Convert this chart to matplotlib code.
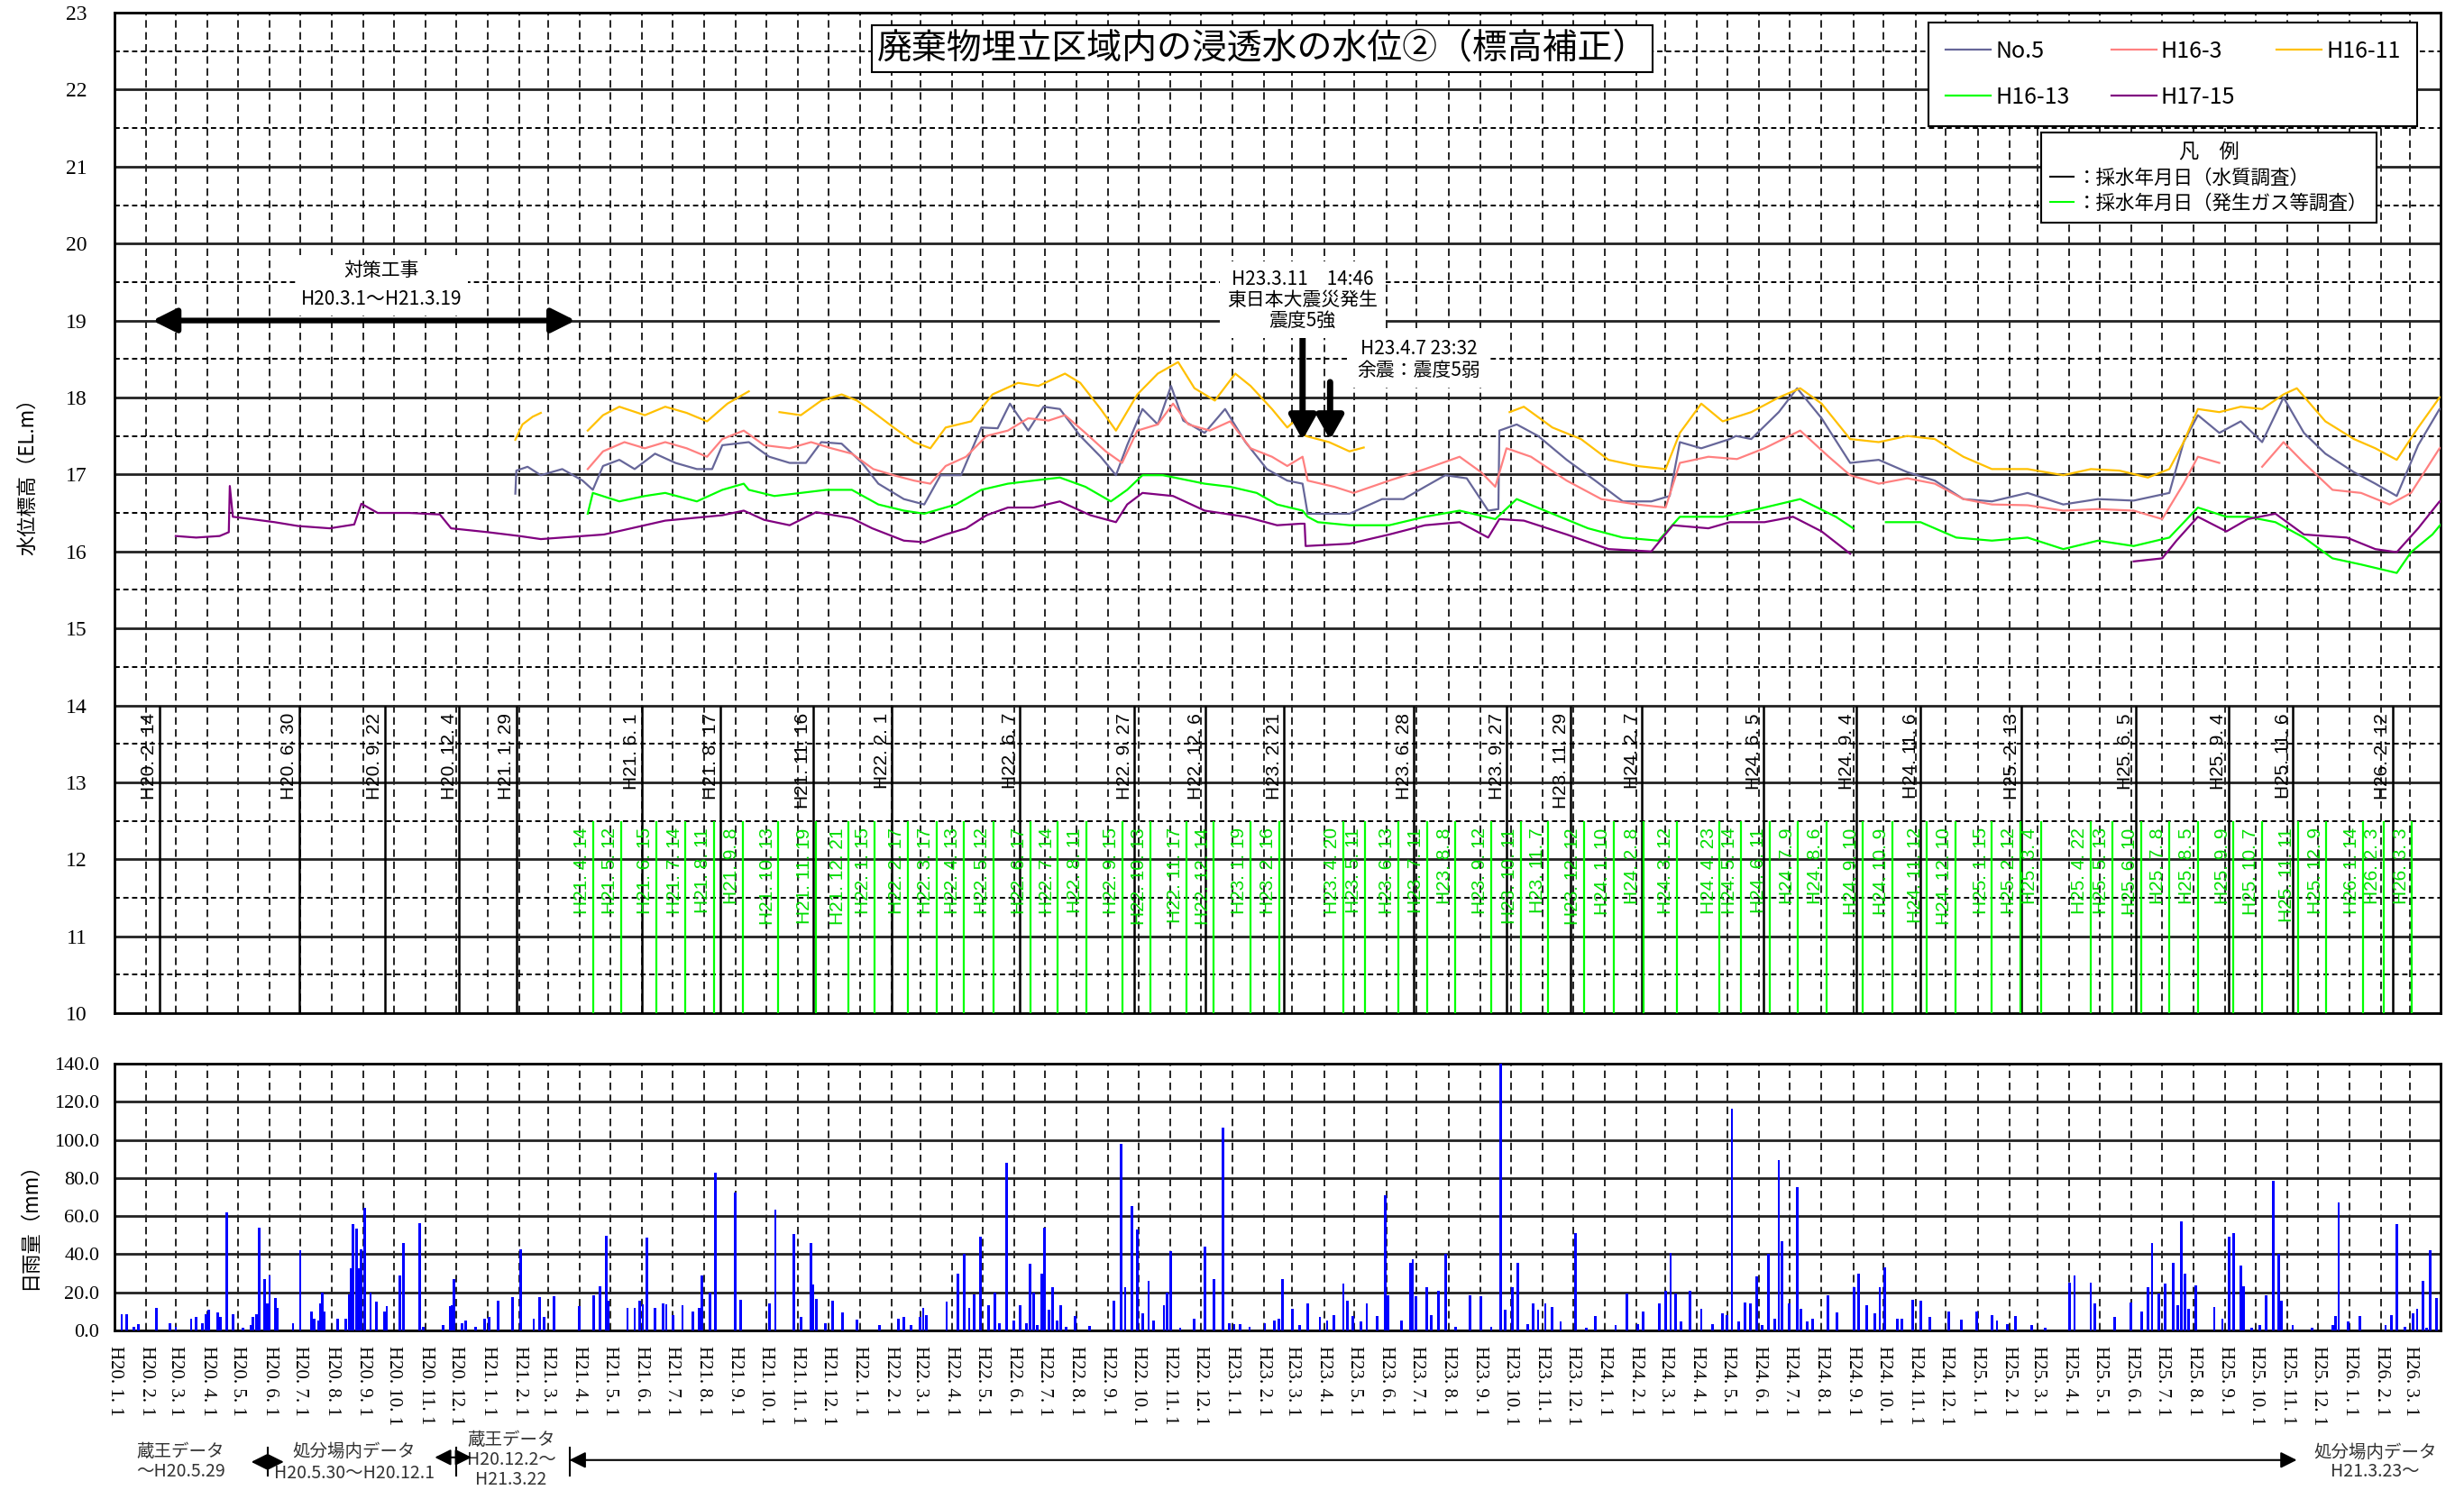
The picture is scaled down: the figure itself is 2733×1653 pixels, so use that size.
import datetime as dt
import numpy as np
import matplotlib
matplotlib.use('Agg')
import matplotlib.pyplot as plt
import matplotlib.dates as mdates
import matplotlib.transforms as mtransforms
from matplotlib.lines import Line2D
from matplotlib.patches import ArrowStyle
from matplotlib.ticker import FormatStrFormatter, FuncFormatter

JP = ['Noto Sans CJK JP', 'DejaVu Sans']
SERIF = ['Liberation Serif', 'Noto Sans CJK JP']
SANS = ['Liberation Sans', 'Noto Sans CJK JP']
plt.rcParams['font.family'] = JP

BASE = dt.date(2008, 1, 1)  # H20.1.1 = day 0 for the series below

# water level (EL.m) as (days from H20.1.1, value); None = no data
no5 = [(393, 16.75), (394, 17.05), (405, 17.1), (418, 16.99), (439, 17.07), (459, 16.92), (469, 16.8),
       (479, 17.11), (495, 17.19), (510, 17.07), (530, 17.27), (550, 17.15), (571, 17.07), (586, 17.07),
       (596, 17.38), (622, 17.42), (642, 17.23), (662, 17.15), (678, 17.15), (693, 17.42), (713, 17.4),
       (733, 17.15), (749, 16.88), (774, 16.68), (794, 16.61), (810, 16.99), (830, 16.99), (850, 17.61),
       (866, 17.6), (878, 17.92), (896, 17.57), (911, 17.88), (927, 17.85), (947, 17.5), (967, 17.23),
       (982, 16.99), (993, 17.38), (1008, 17.85), (1023, 17.65), (1036, 18.15), (1048, 17.7), (1069, 17.54),
       (1089, 17.85), (1109, 17.42), (1130, 17.07), (1150, 16.92), (1165, 16.88), (1170, 16.49), (1211, 16.49),
       (1243, 16.68), (1264, 16.68), (1285, 16.84), (1305, 16.99), (1326, 16.95), (1347, 16.53), (1357, 16.55),
       (1358, 17.57), (1375, 17.65), (1396, 17.5), (1424, 17.19), (1452, 16.92), (1479, 16.65), (1507, 16.65),
       (1525, 16.72), (1535, 17.42), (1556, 17.34), (1584, 17.46), (1590, 17.5), (1605, 17.46), (1632, 17.81),
       (1650, 18.12), (1674, 17.73), (1702, 17.15), (1730, 17.19), (1758, 17.03), (1785, 16.92), (1813, 16.68),
       (1841, 16.65), (1876, 16.76), (1911, 16.61), (1945, 16.68), (1980, 16.66), (2015, 16.76), (2029, 17.42),
       (2043, 17.77), (2064, 17.54), (2085, 17.69), (2106, 17.42), (2127, 18.0), (2147, 17.54), (2168, 17.27),
       (2196, 17.03), (2217, 16.88), (2238, 16.72), (2259, 17.38), (2280, 17.85), (2300, 17.9)]

h16_3 = [(464, 17.07), (479, 17.3), (500, 17.42), (520, 17.34), (540, 17.42), (561, 17.34), (581, 17.23),
         (596, 17.46), (617, 17.57), (637, 17.38), (662, 17.34), (683, 17.42), (703, 17.34), (723, 17.27),
         (744, 17.07), (764, 16.99), (784, 16.92), (800, 16.88), (815, 17.11), (835, 17.23), (855, 17.5),
         (876, 17.57), (896, 17.73), (916, 17.7), (932, 17.77), (952, 17.54), (972, 17.3), (988, 17.15),
         (1003, 17.57), (1023, 17.65), (1038, 17.92), (1053, 17.65), (1074, 17.57), (1094, 17.69), (1114, 17.34),
         (1135, 17.23), (1150, 17.11), (1165, 17.23), (1170, 16.92), (1196, 16.84), (1215, 16.76), (1250, 16.92),
         (1285, 17.07), (1319, 17.23), (1340, 17.03), (1354, 16.84), (1365, 17.34), (1389, 17.23), (1424, 16.92),
         (1458, 16.68), (1493, 16.61), (1521, 16.57), (1535, 17.15), (1563, 17.23), (1591, 17.2), (1618, 17.34),
         (1653, 17.57), (1681, 17.23), (1702, 16.99), (1730, 16.88), (1758, 16.95), (1785, 16.88), (1813, 16.68),
         (1841, 16.61), (1876, 16.6), (1911, 16.53), (1945, 16.55), (1980, 16.53), (2008, 16.42), (2029, 16.88),
         (2043, 17.23), (2064, 17.15), (2070, None), (2106, 17.1), (2127, 17.42), (2147, 17.15), (2175, 16.8),
         (2203, 16.76), (2231, 16.61), (2252, 16.76), (2280, 17.34), (2300, 17.45)]

h16_11 = [(393, 17.45), (400, 17.65), (410, 17.75), (418, 17.8), (430, None),
          (464, 17.57), (479, 17.77), (495, 17.88), (520, 17.77), (540, 17.88), (561, 17.8), (581, 17.69),
          (601, 17.92), (622, 18.08), (635, None),
          (652, 17.81), (673, 17.77), (693, 17.96), (713, 18.04), (728, 17.96), (744, 17.81), (764, 17.61),
          (784, 17.42), (800, 17.34), (815, 17.61), (840, 17.69), (861, 18.04), (886, 18.19), (906, 18.15),
          (932, 18.31), (947, 18.19), (967, 17.85), (982, 17.57), (1003, 18.04), (1023, 18.31), (1043, 18.46),
          (1059, 18.12), (1079, 17.96), (1099, 18.31), (1114, 18.15), (1135, 17.85), (1150, 17.61), (1160, 17.73),
          (1168, 17.5), (1191, 17.42), (1211, 17.3), (1225, 17.35), (1300, None),
          (1368, 17.81), (1382, 17.88), (1410, 17.61), (1438, 17.46), (1465, 17.19), (1493, 17.11), (1521, 17.07),
          (1535, 17.54), (1556, 17.92), (1577, 17.69), (1605, 17.81), (1632, 18.0), (1653, 18.12), (1674, 17.92),
          (1702, 17.46), (1730, 17.42), (1758, 17.5), (1785, 17.46), (1813, 17.23), (1841, 17.07), (1876, 17.07),
          (1911, 16.99), (1938, 17.07), (1966, 17.05), (1994, 16.96), (2015, 17.07), (2029, 17.42), (2043, 17.85),
          (2064, 17.81), (2085, 17.88), (2106, 17.85), (2127, 18.04), (2140, 18.12), (2168, 17.69), (2196, 17.46),
          (2217, 17.34), (2238, 17.19), (2259, 17.61), (2280, 18.0), (2300, 18.1)]

h16_13 = [(464, 16.49), (469, 16.76), (495, 16.65), (520, 16.72), (540, 16.76), (571, 16.65), (596, 16.8),
          (617, 16.88), (622, 16.8), (647, 16.72), (673, 16.76), (698, 16.8), (723, 16.8), (749, 16.61),
          (774, 16.53), (794, 16.49), (825, 16.61), (850, 16.8), (876, 16.88), (901, 16.92), (927, 16.96),
          (952, 16.84), (977, 16.65), (993, 16.8), (1008, 16.99), (1028, 16.99), (1043, 16.95), (1069, 16.88),
          (1094, 16.84), (1120, 16.76), (1140, 16.61), (1165, 16.53), (1170, 16.45), (1180, 16.38), (1211, 16.34),
          (1250, 16.34), (1285, 16.45), (1319, 16.53), (1354, 16.42), (1375, 16.68), (1410, 16.49), (1445, 16.3),
          (1479, 16.18), (1514, 16.14), (1535, 16.45), (1577, 16.45), (1618, 16.57), (1653, 16.68), (1688, 16.45),
          (1705, 16.3), (1720, None),
          (1737, 16.38), (1771, 16.38), (1806, 16.18), (1841, 16.14), (1876, 16.18), (1911, 16.03), (1945, 16.14),
          (1980, 16.07), (2015, 16.18), (2043, 16.57), (2071, 16.45), (2092, 16.45), (2119, 16.38), (2147, 16.18),
          (2175, 15.91), (2203, 15.83), (2238, 15.72), (2252, 15.99), (2273, 16.22), (2283, 16.38)]

h17_15 = [(60, 16.2), (80, 16.18), (103, 16.2), (112, 16.25), (113, 16.85), (116, 16.45), (134, 16.42),
          (157, 16.38), (180, 16.33), (211, 16.3), (235, 16.35), (242, 16.62), (258, 16.5), (289, 16.5),
          (319, 16.48), (330, 16.3), (366, 16.25), (397, 16.2), (418, 16.16), (480, 16.22), (520, 16.34),
          (540, 16.4), (596, 16.47), (617, 16.53), (637, 16.41), (662, 16.34), (688, 16.51), (723, 16.43),
          (743, 16.3), (774, 16.14), (794, 16.12), (815, 16.22), (835, 16.3), (855, 16.47), (876, 16.57),
          (901, 16.57), (927, 16.65), (957, 16.47), (982, 16.38), (993, 16.61), (1008, 16.76), (1038, 16.72),
          (1069, 16.53), (1089, 16.49), (1109, 16.45), (1140, 16.34), (1163, 16.36), (1167, 16.36), (1168, 16.07),
          (1211, 16.1), (1250, 16.22), (1285, 16.34), (1319, 16.38), (1347, 16.18), (1358, 16.42), (1382, 16.4),
          (1424, 16.22), (1465, 16.03), (1507, 16.0), (1528, 16.34), (1563, 16.3), (1584, 16.38), (1618, 16.38),
          (1646, 16.45), (1674, 16.26), (1702, 15.97), (1720, None),
          (1980, 15.87), (2008, 15.91), (2022, 16.14), (2043, 16.45), (2071, 16.26), (2092, 16.42), (2119, 16.49),
          (2147, 16.22), (2189, 16.18), (2217, 16.03), (2238, 15.99), (2259, 16.3), (2280, 16.65), (2300, 16.55)]

series_names = ['No.5', 'H16-3', 'H16-11', 'H16-13', 'H17-15']
series_colors = ['#666699', '#FF8080', '#FFC000', '#00FF00', '#800080']

# sampling dates
quality_dates = ['H20.2.14', 'H20.6.30', 'H20.9.22', 'H20.12.4', 'H21.1.29', 'H21.6.1', 'H21.8.17',
                 'H21.11.16', 'H22.2.1', 'H22.6.7', 'H22.9.27', 'H22.12.6', 'H23.2.21', 'H23.6.28',
                 'H23.9.27', 'H23.11.29', 'H24.2.7', 'H24.6.5', 'H24.9.4', 'H24.11.6', 'H25.2.13',
                 'H25.6.5', 'H25.9.4', 'H25.11.6', 'H26.2.12']
gas_dates = ['H21.4.14', 'H21.5.12', 'H21.6.15', 'H21.7.14', 'H21.8.11', 'H21.9.8', 'H21.10.13', 'H21.11.19',
             'H21.12.21', 'H22.1.15', 'H22.2.17', 'H22.3.17', 'H22.4.13', 'H22.5.12', 'H22.6.17', 'H22.7.14',
             'H22.8.11', 'H22.9.15', 'H22.10.13', 'H22.11.17', 'H22.12.14', 'H23.1.19', 'H23.2.16', 'H23.4.20',
             'H23.5.11', 'H23.6.13', 'H23.7.11', 'H23.8.8', 'H23.9.12', 'H23.10.11', 'H23.11.7', 'H23.12.12',
             'H24.1.10', 'H24.2.8', 'H24.3.12', 'H24.4.23', 'H24.5.14', 'H24.6.11', 'H24.7.9', 'H24.8.6',
             'H24.9.10', 'H24.10.9', 'H24.11.12', 'H24.12.10', 'H25.1.15', 'H25.2.12', 'H25.3.4', 'H25.4.22',
             'H25.5.13', 'H25.6.10', 'H25.7.8', 'H25.8.5', 'H25.9.9', 'H25.10.7', 'H25.11.11', 'H25.12.9',
             'H26.1.14', 'H26.2.3', 'H26.3.3']

# daily rainfall (days from H20.1.1, mm)
rain = [(7, 8.7), (12, 8.7), (19, 1.9), (23, 3.5), (41, 11.8), (54, 4), (60, 2), (75, 6.3), (80, 7), (86, 4),
        (90, 8.7), (92, 11), (101, 9.5), (104, 7), (110, 61.8), (116, 8.7), (126, 1.5), (134, 3), (136, 7),
        (139, 8.7), (142, 54), (147, 27), (150, 14), (152, 29), (158, 17), (160, 12), (175, 4), (182, 42),
        (193, 10), (196, 6.3), (200, 5), (202, 14), (204, 20), (206, 10), (219, 6.3), (227, 6.3), (230, 19),
        (232, 32.6), (234, 56), (237, 53.5), (239, 32.6), (242, 42.6), (245, 64.3), (251, 20), (257, 15),
        (265, 10), (267, 12.6), (280, 29), (283, 45.7), (299, 56.5), (303, 2), (322, 3), (329, 12.6),
        (331, 13.4), (333, 27), (341, 4), (344, 5), (354, 2), (363, 6.3), (367, 7), (376, 15.8), (390, 17.3),
        (398, 42.6), (411, 6.3), (417, 17.3), (421, 7), (431, 18), (456, 12.6), (470, 18.6), (476, 23.3),
        (482, 49.7), (484, 15.8), (503, 11.8), (510, 11.8), (515, 15.8), (518, 13.9), (522, 48.9), (530, 11.8),
        (538, 14), (541, 13.5), (548, 8), (557, 13.4), (567, 10), (573, 11.8), (576, 29), (584, 20),
        (589, 82.6), (609, 72.5), (614, 16), (642, 14), (648, 63.4), (666, 50.5), (673, 7), (683, 45.7),
        (685, 24), (688, 16.5), (697, 4), (704, 15.8), (714, 9.5), (728, 5.7), (750, 3), (769, 6), (774, 7),
        (781, 3), (790, 7), (793, 12), (796, 8), (816, 15), (827, 30), (833, 40), (838, 12), (843, 19),
        (849, 49), (857, 13), (863, 20), (868, 4), (875, 88), (882, 5), (888, 13), (894, 4), (898, 35),
        (901, 20), (905, 3), (909, 30), (912, 54), (916, 11), (920, 22.5), (924, 5), (928, 13), (933, 2),
        (942, 7.5), (956, 2.5), (980, 15.5), (987, 98), (991, 22.5), (998, 65.5), (1003, 53), (1008, 9),
        (1014, 26), (1019, 5), (1029, 13), (1032, 20), (1036, 41.5), (1045, 1.5), (1059, 6), (1069, 44),
        (1078, 27), (1087, 106.5), (1093, 4), (1098, 3.5), (1104, 3.5), (1113, 2), (1128, 4), (1137, 5),
        (1142, 6), (1145, 27), (1155, 11.5), (1162, 3), (1170, 14), (1182, 7), (1189, 5), (1196, 8),
        (1205, 24.6), (1209, 15.5), (1214, 7.5), (1222, 4.5), (1228, 14), (1238, 7.5), (1246, 71),
        (1249, 18.6), (1262, 5), (1271, 35.5), (1273, 37.5), (1276, 17.8), (1287, 22.5), (1291, 8), (1298, 21),
        (1305, 40), (1315, 2), (1329, 18.6), (1340, 18), (1350, 2), (1359, 140), (1364, 11), (1371, 22.5),
        (1376, 35.5), (1386, 3.5), (1391, 14), (1396, 11), (1403, 14), (1410, 12.3), (1418, 4.5), (1433, 51),
        (1443, 1.5), (1452, 7.5), (1472, 3), (1483, 19.4), (1494, 3.5), (1499, 10), (1515, 14), (1521, 21),
        (1526, 40.7), (1531, 19.4), (1536, 4.5), (1545, 21), (1556, 11.5), (1567, 3.5), (1577, 9), (1581, 8),
        (1586, 116.4), (1593, 4.5), (1599, 14.7), (1604, 14), (1610, 28.5), (1616, 3), (1622, 40), (1628, 6),
        (1632, 89.6), (1635, 47), (1642, 14), (1650, 75), (1654, 11.5), (1660, 4.5), (1665, 6), (1680, 18.6),
        (1689, 9.5), (1706, 22.5), (1710, 30), (1718, 13), (1726, 9), (1731, 22.5), (1736, 33), (1748, 6),
        (1753, 6), (1763, 16), (1771, 15.5), (1780, 7), (1799, 10), (1811, 5.5), (1826, 10), (1841, 8),
        (1846, 5), (1856, 3.5), (1864, 7.5), (1880, 3), (1893, 1.5), (1917, 25), (1922, 29), (1938, 25),
        (1942, 14), (1961, 7), (1977, 14.7), (1988, 10), (1994, 22.5), (1998, 46), (2005, 19.4), (2011, 24.4),
        (2019, 35.5), (2023, 13), (2027, 57), (2030, 30), (2034, 11.5), (2041, 23.6), (2059, 12.3), (2067, 6),
        (2074, 49), (2078, 51), (2085, 34), (2088, 23), (2096, 1.5), (2104, 3), (2110, 18.6), (2117, 78.5),
        (2122, 40), (2125, 15.5), (2136, 3), (2155, 1.5), (2175, 3), (2178, 7.5), (2181, 67), (2190, 4.5),
        (2202, 7.5), (2227, 3), (2233, 8), (2238, 56), (2246, 2), (2254, 9), (2258, 11.5), (2264, 26),
        (2267, 1.5), (2271, 42), (2277, 17), (2282, 37)]


def day(n):
    return BASE + dt.timedelta(days=n)


def dnum(n):
    return mdates.date2num(day(n))


def heisei(label):
    y, m, d = label[1:].split('.')
    return dt.date(1988 + int(y), int(m), int(d))


def unpack(pairs):
    x = [day(d) for d, _ in pairs]
    y = [np.nan if v is None else v for _, v in pairs]
    return x, y


fig = plt.figure(figsize=(27.33, 16.53), dpi=100)
ax = fig.add_axes([0.0465, 0.32, 0.944, 0.6715])
axr = fig.add_axes([0.0465, 0.1071, 0.944, 0.179])
xmin, xmax = dt.date(2008, 1, 1), dt.date(2014, 3, 31)

# ---- water level panel ----
ax.set_xlim(xmin, xmax)
ax.set_ylim(10, 23)
ax.set_yticks(range(10, 24))
ax.set_yticks(np.arange(10.5, 23, 1), minor=True)
ax.xaxis.set_major_locator(mdates.MonthLocator())
ax.grid(axis='y', which='major', color='#222222', lw=2)
ax.grid(axis='y', which='minor', color='k', lw=1.4, ls=(0, (3, 2)))
ax.grid(axis='x', which='major', color='k', lw=1.2, ls=(0, (5, 3)))
ax.set_axisbelow(True)
ax.tick_params(axis='both', which='both', length=0)
ax.tick_params(axis='x', labelbottom=False)
ax.tick_params(axis='y', pad=22, labelsize=17)
for t in ax.get_yticklabels():
    t.set_family(SERIF)
for s in ax.spines.values():
    s.set_linewidth(2)

lines = {}
for pairs, name, color in zip([no5, h16_3, h16_11, h16_13, h17_15], series_names, series_colors):
    x, y = unpack(pairs)
    lines[name], = ax.plot(x, y, color=color, lw=1.6, label=name, zorder=4)

ax.vlines([heisei(s) for s in quality_dates], 10, 14, color='k', lw=1.8, zorder=3)
for s in quality_dates:
    ax.annotate(s.replace('.', '. '), (heisei(s), 13.9), xytext=(-1, 0), textcoords='offset points',
                rotation=90, ha='right', va='top', fontsize=15, family=SANS, zorder=3)
ax.vlines([heisei(s) for s in gas_dates], 10, 12.5, color='#00FF00', lw=1.6, zorder=3)
for s in gas_dates:
    ax.annotate(s.replace('.', '. '), (heisei(s), 12.41), xytext=(-2, 0), textcoords='offset points',
                rotation=90, ha='right', va='top', fontsize=15, family=SANS, color='#00DD00', zorder=3)

ax.text(0.4934, 0.964, '廃棄物埋立区域内の浸透水の水位②（標高補正）', transform=ax.transAxes,
        ha='center', va='center', fontsize=28,
        bbox=dict(boxstyle='square,pad=0.15', facecolor='white', edgecolor='k', lw=1.5), zorder=6)

order = ['No.5', 'H16-13', 'H16-3', 'H17-15', 'H16-11']
leg1 = ax.legend([lines[n] for n in order], order, ncol=3, loc='upper left',
                 bbox_to_anchor=(0.78, 0.99, 0.21, 0.0), mode='expand', fontsize=18, borderaxespad=0,
                 handlelength=2.0, handletextpad=0.2, labelspacing=1.0, borderpad=0.75,
                 fancybox=False, framealpha=1, edgecolor='k')
leg1.get_frame().set_linewidth(1.5)
ax.add_artist(leg1)
leg2 = ax.legend([Line2D([], [], color='k', lw=1.5), Line2D([], [], color='#00FF00', lw=1.5)],
                 ['：採水年月日（水質調査）', '：採水年月日（発生ガス等調査）'], title='凡　例',
                 loc='upper right', bbox_to_anchor=(0.9725, 0.88), fontsize=15.5, title_fontsize=16,
                 handlelength=1.2, handletextpad=0.2, labelspacing=0.3, borderpad=0.45, borderaxespad=0,
                 fancybox=False, framealpha=1, edgecolor='k')
leg2.get_frame().set_linewidth(1.5)

# counter-measure works period
ax.annotate('', xy=(day(452), 19), xytext=(day(37), 19),
            arrowprops=dict(arrowstyle=ArrowStyle('<|-|>', head_length=0.8, head_width=0.4),
                            lw=4.5, color='k', mutation_scale=20, shrinkA=0, shrinkB=0), zorder=5)
ax.text(day(262), 19.46, '対策工事\nH20.3.1～H21.3.19', ha='center', va='center', fontsize=15,
        linespacing=1.6, bbox=dict(boxstyle='square,pad=0.3', facecolor='white', edgecolor='none'), zorder=6)

# earthquakes
eq1, eq2 = heisei('H23.3.11'), heisei('H23.4.7')
for d, top in [(eq1, 18.86), (eq2, 18.2)]:
    ax.annotate('', xy=(d, 17.45), xytext=(d, top),
                arrowprops=dict(arrowstyle=ArrowStyle('-|>', head_length=0.8, head_width=0.45),
                                lw=5, color='k', mutation_scale=20, shrinkA=0, shrinkB=0), zorder=5)
ax.text(eq1, 19.27, 'H23.3.11　14:46\n東日本大震災発生\n震度5強', ha='center', va='center', fontsize=15,
        linespacing=1.05, bbox=dict(boxstyle='square,pad=0.4', facecolor='white', edgecolor='none'), zorder=6)
ax.text(day(1279), 18.49, 'H23.4.7 23:32\n余震：震度5弱', ha='center', va='center', fontsize=15,
        linespacing=1.1, bbox=dict(boxstyle='square,pad=0.4', facecolor='white', edgecolor='none'), zorder=6)

# ---- rainfall panel ----
rx = [day(d) for d, _ in rain]
ry = [v for _, v in rain]
axr.bar(rx, ry, width=2.5, color='#0000FF', zorder=3)
axr.set_xlim(xmin, xmax)
axr.set_ylim(0, 140)
axr.set_yticks(range(0, 141, 20))
axr.yaxis.set_major_formatter(FormatStrFormatter('%.1f'))
axr.xaxis.set_major_locator(mdates.MonthLocator())
axr.xaxis.set_major_formatter(FuncFormatter(
    lambda v, p: 'H{}. {}. 1'.format(mdates.num2date(v).year - 1988, mdates.num2date(v).month)))
axr.grid(axis='y', color='#222222', lw=2)
axr.grid(axis='x', color='k', lw=1.2, ls=(0, (5, 3)))
axr.set_axisbelow(True)
axr.tick_params(length=0)
axr.tick_params(axis='x', rotation=-90, pad=12, labelsize=15)
axr.tick_params(axis='y', pad=12, labelsize=16)
for t in axr.get_xticklabels() + axr.get_yticklabels():
    t.set_family(SERIF)
for s in axr.spines.values():
    s.set_linewidth(2)

fig.text(31 / 2733, 1 - 523 / 1653, '水位標高（EL.m）', rotation=90, ha='center', va='center', fontsize=16)
fig.text(32 / 2733, 1 - 1355 / 1653, '日雨量（mm）', rotation=90, ha='center', va='center', fontsize=16)

# data source notes under the rainfall axis
trans = mtransforms.blended_transform_factory(axr.transData, axr.transAxes)
notes = [(65, -0.453, '蔵王データ'), (65, -0.530, '～H20.5.29'),
         (235, -0.453, '処分場内データ'), (235, -0.535, 'H20.5.30～H20.12.1'),
         (389, -0.409, '蔵王データ'), (389, -0.486, 'H20.12.2～'), (389, -0.561, 'H21.3.22'),
         (2217, -0.456, '処分場内データ'), (2217, -0.530, 'H21.3.23～')]
for d, yf, s in notes:
    axr.text(dnum(d), yf, s, transform=trans, ha='center', va='center', fontsize=14, color='#333333',
             clip_on=False)
for d0, d1, yf in [(134, 166, -0.493), (314, 350, -0.476), (446, 2140, -0.486)]:
    axr.annotate('', xy=(dnum(d1), yf), xytext=(dnum(d0), yf), xycoords=trans, textcoords=trans,
                 arrowprops=dict(arrowstyle=ArrowStyle('<|-|>', head_length=0.9, head_width=0.45),
                                 color='k', lw=1.5, mutation_scale=12, shrinkA=0, shrinkB=0),
                 annotation_clip=False)
for d in [150, 335, 446]:
    axr.plot([dnum(d), dnum(d)], [-0.44, -0.545], transform=trans, clip_on=False, color='k', lw=1.5)

fig.savefig('out.png', dpi=100)
